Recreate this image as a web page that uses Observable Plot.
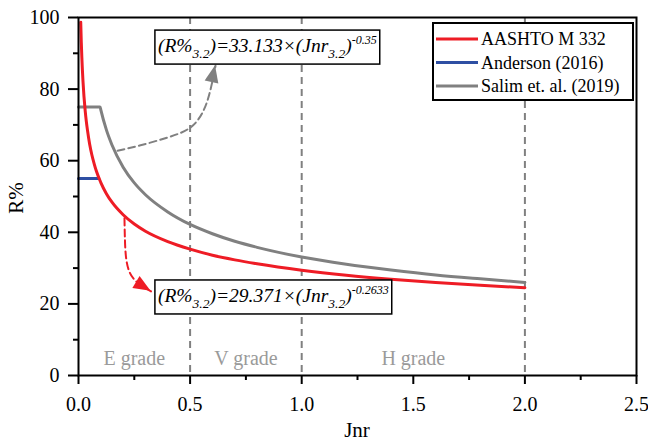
<!DOCTYPE html>
<html><head><meta charset="utf-8">
<script src="https://cdn.jsdelivr.net/npm/d3@7"></script>
<script src="https://cdn.jsdelivr.net/npm/@observablehq/plot@0.6"></script>
<style>body{margin:0;background:#fff}</style>
</head><body><div id="chart"></div>
<script>
// ---- data ----
const aashtoJ = [0.01,0.0125,0.015,0.02,0.03,0.035,0.04,0.05,0.06,0.07,0.08,0.1,0.125,0.15,0.2,0.25,0.3,0.4,0.5,0.6,0.7,0.8,1.0,1.2,1.4,1.6,1.8,2.0];
const aashtoR = [98.7,93.1,88.8,82.3,73.9,71.0,68.6,64.6,61.6,59.2,57.1,53.9,50.8,48.4,44.9,42.3,40.3,37.4,35.3,33.6,32.3,31.2,29.4,28.0,26.9,26.0,25.2,24.5];
const andersonJ = [0, 0.09];
const andersonR = [55, 55];
const salimJ = [0,0.097,0.1,0.125,0.15,0.2,0.25,0.3,0.4,0.5,0.6,0.7,0.8,1.0,1.2,1.4,1.6,1.8,2.0];
const salimR = [75,75,74.2,68.6,64.4,58.2,53.8,50.5,45.7,42.2,39.6,37.5,35.8,33.1,31.1,29.5,28.1,27.0,26.0];
const seriesNames = ["AASHTO M 332","Anderson (2016)","Salim et. al. (2019)"];
const seriesColors = ["#ee1c25","#2e4fa3","#808080"];
const gradeBounds = [0.5, 1.0, 2.0];
const gradeLabels = ["E grade","V grade","H grade"];
const gradeX = [0.25, 0.75, 1.5];
const gradeY = [4.7, 4.7, 4.7];
const xTicks = [0,0.5,1.0,1.5,2.0,2.5];
const xMinor = [0.25,0.75,1.25,1.75,2.25];
const yTicks = [0,20,40,60,80,100];
const yMinor = [10,30,50,70,90];
// annotation arrows (Jnr, R%)
const grayArrowJ = [0.175,0.278,0.40,0.502,0.56,0.59,0.614];
const grayArrowR = [62.8,64.3,66.5,69.3,74.0,79.5,86.5];
const redArrowJ = [0.206,0.208,0.213,0.226,0.25,0.285,0.325];
const redArrowR = [43.9,38.0,33.0,29.3,26.8,25.0,23.5];

const serif = "'Liberation Serif','Times New Roman',serif";

const plot = Plot.plot({
  width: 648, height: 442,
  marginLeft: 78, marginRight: 12, marginTop: 17, marginBottom: 67,
  style: {fontFamily: serif, fontSize: "20px", color: "#000", background: "#fff"},
  x: {domain: [0, 2.5]},
  y: {domain: [0, 100]},
  marks: [
    Plot.ruleX(gradeBounds, {stroke: "#808080", strokeWidth: 2, strokeDasharray: "7,5"}),
    Plot.text(gradeLabels, {x: gradeX, y: gradeY, text: d => d, fill: "#9a9a9a", fontSize: 20}),
    Plot.line(salimR, {x: salimJ, y: salimR, stroke: seriesColors[2], strokeWidth: 3, curve: "monotone-x"}),
    Plot.line(andersonR, {x: andersonJ, y: andersonR, stroke: seriesColors[1], strokeWidth: 3}),
    Plot.line(aashtoR, {x: aashtoJ, y: aashtoR, stroke: seriesColors[0], strokeWidth: 3, curve: "monotone-x"}),
    Plot.line(grayArrowR, {x: grayArrowJ, y: grayArrowR, stroke: "#808080", strokeWidth: 2, strokeDasharray: "7,4", curve: "natural"}),
    Plot.line(redArrowR, {x: redArrowJ, y: redArrowR, stroke: "#ee1c25", strokeWidth: 2, strokeDasharray: "7,4", curve: "natural"}),
    Plot.axisX({ticks: xTicks, tickFormat: d => d.toFixed(1), tickSize: 9, tickPadding: 12, strokeWidth: 2, fontSize: 20, label: null}),
    Plot.axisX({ticks: xMinor, tickSize: 5, tickFormat: () => "", strokeWidth: 2, label: null}),
    Plot.axisY({ticks: yTicks, tickSize: 10, tickPadding: 9, strokeWidth: 2, fontSize: 20, label: null}),
    Plot.axisY({ticks: yMinor, tickSize: 5, tickFormat: () => "", strokeWidth: 2, label: null}),
    Plot.frame({strokeWidth: 2})
  ]
});
document.getElementById("chart").appendChild(plot);

const svg = d3.select(plot);
const sx = plot.scale("x"), sy = plot.scale("y");
const X = v => sx.apply(v), Y = v => sy.apply(v);

// arrowheads
function head(J, R, color) {
  const n = J.length;
  const tx = X(J[n-1]), ty = Y(R[n-1]);
  const px = X(J[n-2]), py = Y(R[n-2]);
  let dx = tx - px, dy = ty - py; const L = Math.hypot(dx, dy); dx /= L; dy /= L;
  const len = 17, w = 7;
  const bx = tx - dx*len, by = ty - dy*len;
  svg.append("path")
    .attr("d", `M${tx},${ty}L${bx - dy*w},${by + dx*w}L${bx + dy*w},${by - dx*w}Z`)
    .attr("fill", color);
}
head(grayArrowJ, grayArrowR, "#808080");
head(redArrowJ, redArrowR, "#ee1c25");

// equations
function equation(J, R, coef, expo) {
  const g = svg.append("g").attr("text-anchor", "start");
  const t = g.append("text").attr("x", X(J)).attr("y", Y(R)).attr("text-anchor", "start")
    .attr("font-family", serif).attr("font-style", "italic").attr("font-size", 19.5).attr("fill", "#000");
  t.append("tspan").text("(R%");
  t.append("tspan").attr("dy", 6).attr("font-size", 13.5).text("3.2");
  t.append("tspan").attr("dy", -6).text(")=" + coef + "×(Jnr");
  t.append("tspan").attr("dy", 6).attr("font-size", 13.5).text("3.2");
  t.append("tspan").attr("dy", -6).text(")");
  t.append("tspan").attr("dy", -8).attr("font-size", 12).text(expo);
  const b = t.node().getBBox();
  g.insert("rect", "text").attr("x", b.x - 3).attr("y", b.y - 3).attr("width", b.width + 6).attr("height", b.height + 6)
    .attr("fill", "#fff").attr("stroke", "#000").attr("stroke-width", 1.5);
}
equation(0.358, 90.2, "33.133", "-0.35");
equation(0.358, 20.4, "29.371", "-0.2633");

// legend
const lg = svg.append("g").attr("text-anchor", "start");
lg.append("rect").attr("x", 433).attr("y", 23).attr("width", 200).attr("height", 77)
  .attr("fill", "#fff").attr("stroke", "#000").attr("stroke-width", 2);
seriesNames.forEach((name, i) => {
  const cy = 39 + i * 23.5;
  lg.append("line").attr("x1", 436).attr("x2", 478).attr("y1", cy).attr("y2", cy)
    .attr("stroke", seriesColors[i]).attr("stroke-width", 3);
  lg.append("text").attr("x", 481).attr("y", cy).attr("dy", "0.35em").attr("text-anchor", "start")
    .attr("font-family", serif).attr("font-size", 18).attr("fill", "#000").text(name);
});

// axis titles
svg.append("text").attr("x", 357).attr("y", 437).attr("text-anchor", "middle")
  .attr("font-family", serif).attr("font-size", 21).attr("fill", "#000").text("Jnr");
svg.append("text").attr("transform", "translate(23,198) rotate(-90)").attr("text-anchor", "middle")
  .attr("font-family", serif).attr("font-size", 21).attr("fill", "#000").text("R%");
</script></body></html>
